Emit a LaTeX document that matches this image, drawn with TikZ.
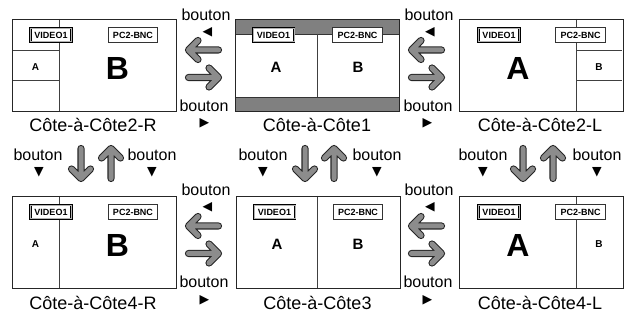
\documentclass[tikz,border=0pt]{standalone}
\usepackage{fontspec}
\setmainfont{Liberation Sans}
\newfontfamily\symfont{DejaVu Sans}
\tikzset{
  scr/.style={draw=black!85, line width=1pt, minimum width=164, minimum height=92, inner sep=0, anchor=north west},
  inl/.style={draw=black!75, line width=0.8pt},
  band/.style={fill=gray, draw=black!80, line width=0.8pt},
  vbox/.style={draw=black, double=gray!60, double distance=0.9pt, line width=0.7pt, fill=white,
    minimum width=41, minimum height=13.8, inner sep=0, font=\bfseries\fontsize{9}{9}\selectfont},
  pbox/.style={draw=black!80, line width=0.8pt, fill=white,
    minimum width=49.5, minimum height=15.5, inner sep=0, font=\bfseries\fontsize{9}{9}\selectfont},
  smallab/.style={font=\bfseries\fontsize{10}{10}\selectfont, inner sep=0},
  midab/.style={font=\bfseries\fontsize{15}{15}\selectfont, inner sep=0},
  bigab/.style={font=\bfseries\fontsize{32}{32}\selectfont, inner sep=0},
  lbl/.style={font=\fontsize{16}{16}\selectfont, inner sep=0, anchor=base},
  scrcap/.style={font=\fontsize{18}{18}\selectfont, inner sep=0, anchor=base},
  tri/.style={font=\symfont\fontsize{12.5}{12.5}\selectfont, inner sep=0},
  fatarrow/.pic={
    \draw[line width=7.2pt, black!85, line cap=round, line join=round] (30,0) -- (0,0) (9.5,-9.5) -- (0,0) -- (9.5,9.5);
    \draw[line width=5pt, gray!90, line cap=round, line join=round] (30,0) -- (0,0) (9.5,-9.5) -- (0,0) -- (9.5,9.5);
  }
}
\begin{document}
\begin{tikzpicture}[x=1pt,y=-1pt]
\useasboundingbox (0,0) rectangle (627,320);

% ---------- Top left: Cote-a-Cote2-R
\node[scr] (s2r) at (12,19) {};
\draw[inl] (59,19) -- (59,111);
\draw[inl] (12,50) -- (59,50) (12,80) -- (59,80);
\node[vbox] (v2r) at (51,35) {VIDEO1};
\node[pbox] (p2r) at (133,35) {PC2-BNC};
\node[smallab] (a2r) at (35.5,67) {A};
\node[bigab] (b2r) at (117.5,68) {B};
\node[scr] at (12,19) {};
\node[scrcap] (c2r) at (93,131.5) {Côte-à-Côte2-R};

% ---------- Top middle: Cote-a-Cote1
\node[scr] (s1) at (235,19) {};
\draw[band] (235,19) rectangle (399,34);
\draw[band] (235,97) rectangle (399,111);
\draw[inl] (317,34) -- (317,97);
\node[vbox] (v1) at (273.5,35) {VIDEO1};
\node[pbox] (p1) at (357.5,35) {PC2-BNC};
\node[midab] (a1) at (276,67) {A};
\node[midab] (b1) at (358,67) {B};
\node[scr] at (235,19) {};
\node[scrcap] (c1) at (317,131.5) {Côte-à-Côte1};

% ---------- Top right: Cote-a-Cote2-L
\node[scr] (s2l) at (459,19) {};
\draw[inl] (576,19) -- (576,111);
\draw[inl] (576,50) -- (622,50) (576,80) -- (622,80);
\node[vbox] (v2l) at (499,35) {VIDEO1};
\node[pbox] (p2l) at (580.5,35) {PC2-BNC};
\node[bigab] (a2l) at (518,68) {A};
\node[smallab] (b2l) at (599,67) {B};
\node[scr] at (459,19) {};
\node[scrcap] (c2l) at (540,131.5) {Côte-à-Côte2-L};

% ---------- Bottom left: Cote-a-Cote4-R
\node[scr] (s4r) at (12,196) {};
\draw[inl] (59,196) -- (59,288);
\node[vbox] (v4r) at (51,212) {VIDEO1};
\node[pbox] (p4r) at (133,212) {PC2-BNC};
\node[smallab] (a4r) at (35.5,244) {A};
\node[bigab] (b4r) at (117.5,245) {B};
\node[scr] at (12,196) {};
\node[scrcap] (c4r) at (93,309.5) {Côte-à-Côte4-R};

% ---------- Bottom middle: Cote-a-Cote3
\node[scr] (s3) at (235.5,196) {};
\draw[inl] (317.5,196) -- (317.5,288);
\node[vbox] (v3) at (274.5,212) {VIDEO1};
\node[pbox] (p3) at (358,212) {PC2-BNC};
\node[midab] (a3) at (277,244) {A};
\node[midab] (b3) at (358,244) {B};
\node[scr] at (235.5,196) {};
\node[scrcap] (c3) at (317.5,309.5) {Côte-à-Côte3};

% ---------- Bottom right: Cote-a-Cote4-L
\node[scr] (s4l) at (459,196) {};
\draw[inl] (576,196) -- (576,288);
\node[vbox] (v4l) at (499,212) {VIDEO1};
\node[pbox] (p4l) at (580.5,212) {PC2-BNC};
\node[bigab] (a4l) at (518,245) {A};
\node[smallab] (b4l) at (599,244) {B};
\node[scr] at (459,196) {};
\node[scrcap] (c4l) at (540,309.5) {Côte-à-Côte4-L};

% ---------- horizontal arrows & labels
\foreach \gx/\row in {203.5/0, 426.5/0, 203.5/176, 426.5/176} {
  \pic at (\gx-15,50+\row) {fatarrow};
  \pic[rotate=180] at (\gx+15,77.5+\row) {fatarrow};
}
\node[lbl] (bt1) at (206,20.5) {bouton};
\node[tri] (tl1) at (207.5,32) {◀};
\node[lbl] (bb1) at (204,111.5) {bouton};
\node[tri] (tr1) at (204.5,123) {▶};
\node[lbl] (bt2) at (429,20.5) {bouton};
\node[tri] (tl2) at (430,32) {◀};
\node[lbl] (bb2) at (428,111.5) {bouton};
\node[tri] (tr2) at (427.5,123) {▶};

\node[lbl] (bt3) at (206,195.5) {bouton};
\node[tri] (tl3) at (207.5,207) {◀};
\node[lbl] (bb3) at (204,287.5) {bouton};
\node[tri] (tr3) at (204.5,300) {▶};
\node[lbl] (bt4) at (429,195.5) {bouton};
\node[tri] (tl4) at (430,207) {◀};
\node[lbl] (bb4) at (428,287.5) {bouton};
\node[tri] (tr4) at (427.5,300) {▶};

% ---------- vertical arrows & labels
\foreach \dx/\ux in {81/111, 305/334, 523/553} {
  \pic[rotate=90] at (\dx,178.5) {fatarrow};
  \pic[rotate=-90] at (\ux,148.5) {fatarrow};
}
\node[lbl] (vl1) at (38,160.7) {bouton};
\node[tri] (vt1) at (39,172) {▼};
\node[lbl] (vr1) at (152,160.7) {bouton};
\node[tri] (vs1) at (152,172) {▼};
\node[lbl] (vl2) at (263,160.7) {bouton};
\node[tri] (vt2) at (263,172) {▼};
\node[lbl] (vr2) at (377,160.7) {bouton};
\node[tri] (vs2) at (377,172) {▼};
\node[lbl] (vl3) at (483,160.7) {bouton};
\node[tri] (vt3) at (483,172) {▼};
\node[lbl] (vr3) at (597,160.7) {bouton};
\node[tri] (vs3) at (597,172) {▼};
\end{tikzpicture}
\end{document}
